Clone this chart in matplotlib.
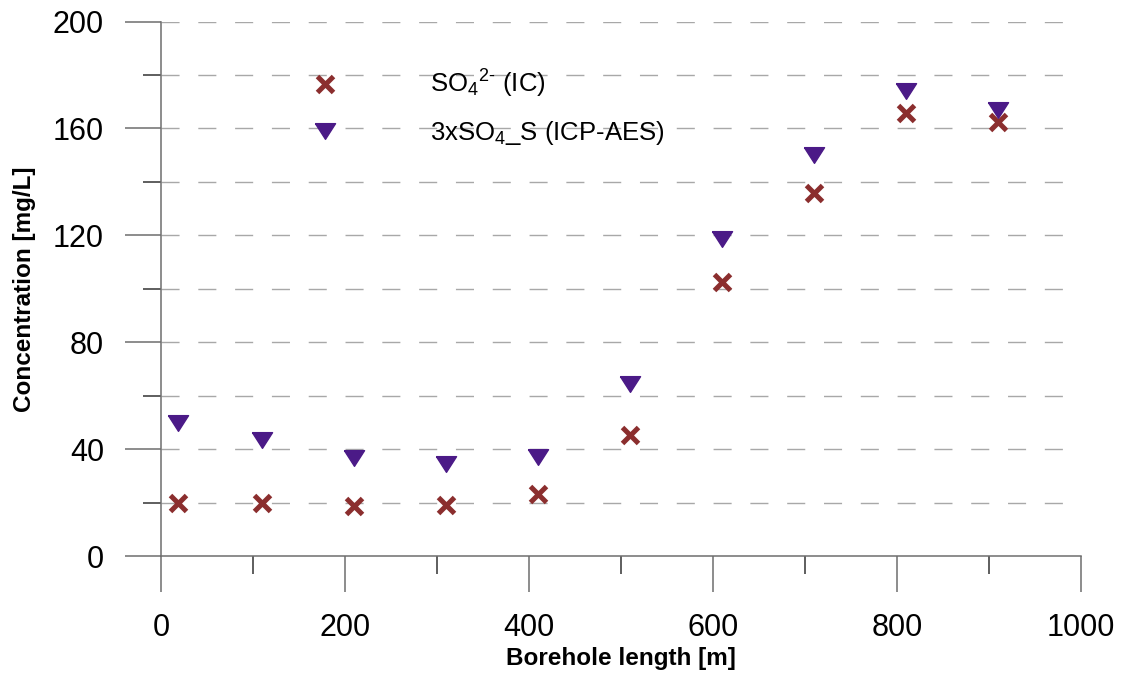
import matplotlib.pyplot as plt
from matplotlib.ticker import MultipleLocator

plt.rcParams['font.family'] = ['Liberation Sans', 'DejaVu Sans']

# borehole length [m] of the sampling points
borehole_length = [18, 110, 210, 310, 410, 510, 610, 710, 810, 910]

# sulphate by ion chromatography [mg/L]
so4_ic = [19.7, 19.7, 18.6, 19.1, 23.1, 45.3, 102.6, 135.7, 165.9, 162.3]

# 3 x sulphate-S by ICP-AES [mg/L]
so4_s_icp = [49.9, 43.3, 36.7, 34.5, 37.2, 64.2, 118.6, 149.9, 174.0, 166.9]

red = '#8b2e2e'
purple = '#4b1a87'
axis_grey = '#6e6e6e'

W, H = 1121, 673
fig = plt.figure(figsize=(W / 100, H / 100), dpi=100)
ax = fig.add_axes([161 / W, 1 - 556 / H, (1081 - 161) / W, (556 - 21.5) / H])

# flat triangle marker (wider than tall)
tri = [(-1, 0.78), (1, 0.78), (0, -0.78), (-1, 0.78)]

ax.plot(borehole_length, so4_ic, linestyle='none', marker='x', ms=11.5, mew=3.6,
        color=red, label='SO$\\mathregular{_4}$$\\mathregular{^{2\u2010}}$ (IC)', zorder=3)
ax.plot(borehole_length, so4_s_icp, linestyle='none', marker=tri, ms=14.5,
        color=purple, mec=purple, label='3xSO$\\mathregular{_4}$_S (ICP-AES)', zorder=3)

ax.set_xlim(0, 1000)
ax.set_ylim(0, 200)

ax.xaxis.set_major_locator(MultipleLocator(200))
ax.xaxis.set_minor_locator(MultipleLocator(100))
ax.yaxis.set_major_locator(MultipleLocator(40))
ax.yaxis.set_minor_locator(MultipleLocator(20))

# dashed horizontal grid every 20
for yv in range(20, 201, 20):
    ax.axhline(yv, color='#a8a8a8', lw=1.0, dashes=(13, 13.5), zorder=1)

for side in ['top', 'right']:
    ax.spines[side].set_visible(False)
for side in ['left', 'bottom']:
    ax.spines[side].set_color(axis_grey)
    ax.spines[side].set_linewidth(1.1)

ax.tick_params(axis='both', which='major', length=26, width=1.1, color=axis_grey,
               labelsize=22)
ax.tick_params(axis='both', which='minor', length=13, width=1.1, color='#333333')
ax.tick_params(axis='x', which='major', pad=15)
ax.tick_params(axis='y', which='major', pad=15)

ax.set_xlabel('Borehole length [m]', fontsize=17.5, fontweight='bold', labelpad=3)
ax.set_ylabel('Concentration [mg/L]', fontsize=17.5, fontweight='bold', labelpad=12)

ax.legend(loc='upper left', bbox_to_anchor=(313 / W, 1 - 68 / H),
          bbox_transform=fig.transFigure, frameon=False, fontsize=18.5,
          handlelength=0.95, handletextpad=3.6, borderpad=0, borderaxespad=0,
          labelspacing=0.75)

fig.savefig('out.png', dpi=100)
